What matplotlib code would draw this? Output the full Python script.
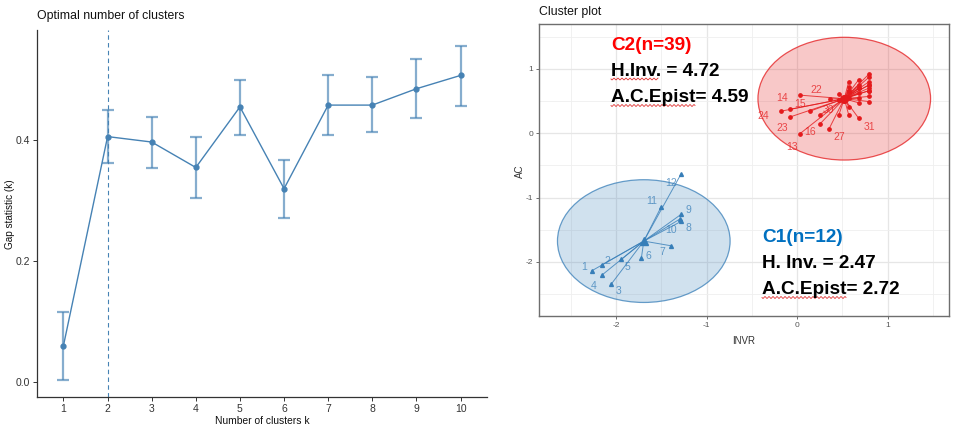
import numpy as np
import matplotlib
matplotlib.use("Agg")
import matplotlib.pyplot as plt
from matplotlib.patches import Ellipse

plt.rcParams['font.family'] = ['Liberation Sans', 'DejaVu Sans']

# ---------------- data: gap statistic ----------------
k_values = [1, 2, 3, 4, 5, 6, 7, 8, 9, 10]
gap = [0.061, 0.406, 0.397, 0.355, 0.455, 0.320, 0.458, 0.458, 0.485, 0.507]
gap_low = [0.004, 0.362, 0.354, 0.305, 0.409, 0.272, 0.409, 0.413, 0.437, 0.457]
gap_high = [0.117, 0.450, 0.439, 0.406, 0.499, 0.367, 0.508, 0.505, 0.534, 0.556]
optimal_k = 2
gap_yticks = [0.0, 0.2, 0.4]

# ---------------- data: cluster plot ----------------
c1_ids = ['1', '2', '3', '4', '5', '6', '7', '8', '9', '10', '11', '12']
c1_x = [-2.27, -2.16, -2.05, -2.16, -1.94, -1.72, -1.39, -1.28, -1.28, -1.29, -1.50, -1.28]
c1_y = [-2.14, -2.05, -2.34, -2.21, -1.96, -1.94, -1.75, -1.37, -1.26, -1.33, -1.14, -0.63]

c2_ids = ['13', '14', '15', '16', '22', '23', '24', '27', '30', '31'] + [''] * 29
c2_x = [0.03, -0.08, 0.14, 0.25, 0.03, -0.08, -0.18, 0.35, 0.25, 0.68,
        0.795, 0.795, 0.795, 0.795, 0.795, 0.795, 0.795, 0.795,
        0.68, 0.68, 0.68, 0.68, 0.68, 0.68,
        0.57, 0.57, 0.57, 0.57, 0.57, 0.57,
        0.46, 0.46, 0.46, 0.36,
        0.795, 0.68, 0.57, 0.795, 0.46]
c2_y = [-0.01, 0.37, 0.34, 0.14, 0.59, 0.25, 0.34, 0.06, 0.28, 0.23,
        0.92, 0.87, 0.80, 0.75, 0.70, 0.66, 0.57, 0.49,
        0.83, 0.75, 0.70, 0.62, 0.54, 0.47,
        0.80, 0.71, 0.65, 0.54, 0.41, 0.28,
        0.61, 0.52, 0.28, 0.53,
        0.75, 0.70, 0.65, 0.66, 0.52]
ellipse_radius = 0.953  # in data units (x and y)

x_ticks = [-2, -1, 0, 1]
y_ticks = [-2, -1, 0, 1]

# label nudges (layout only)
c1_nudge = {'1': (-0.08, 0.06), '2': (0.07, 0.07), '3': (0.08, -0.11), '4': (-0.09, -0.16),
            '5': (0.07, -0.12), '6': (0.08, 0.03), '7': (-0.10, -0.09), '8': (0.08, -0.10),
            '9': (0.08, 0.07), '10': (-0.10, -0.17), '11': (-0.11, 0.08), '12': (-0.11, -0.15)}
c2_nudge = {'22': (0.18, 0.08), '24': (-0.19, -0.08), '14': (-0.09, 0.17), '15': (-0.11, 0.11),
            '23': (-0.08, -0.17), '13': (-0.09, -0.20), '16': (-0.11, -0.13), '30': (0.09, 0.08),
            '27': (0.11, -0.12), '31': (0.115, -0.13)}

W, H = 957, 428
fig = plt.figure(figsize=(W / 100, H / 100), dpi=100)


def fx(px):
    return px / W


def fy(py):
    return 1 - py / H


steel = '#4682B4'

# ---------------- left panel ----------------
ax1 = fig.add_axes([fx(37), fy(397), (487 - 37) / W, (397 - 30) / H])
g = np.array(gap)
ax1.errorbar(k_values, gap, yerr=[g - np.array(gap_low), np.array(gap_high) - g],
             fmt='none', ecolor=steel, alpha=0.65, elinewidth=1.6, capsize=4.5, capthick=1.6, zorder=2)
ax1.plot(k_values, gap, color=steel, lw=1.0, marker='o', ms=3.5, zorder=3)
ax1.axvline(optimal_k, color=steel, ls=(0, (4, 3)), lw=0.8, zorder=1)
ax1.set_xlim(0.4, 10.6)
ax1.set_ylim(-0.024, 0.582)
ax1.set_xticks(k_values)
ax1.set_xticklabels([str(k) for k in k_values])
ax1.set_yticks(gap_yticks)
ax1.set_yticklabels(['%.1f' % v for v in gap_yticks])
for s in ['top', 'right']:
    ax1.spines[s].set_visible(False)
for s in ['left', 'bottom']:
    ax1.spines[s].set_color('#333333')
    ax1.spines[s].set_linewidth(0.9)
ax1.tick_params(axis='both', length=3, width=0.7, color='#333333', labelsize=7.5,
                labelcolor='#333333', pad=2)
fig.text(fx(37), fy(16), 'Optimal number of clusters', fontsize=8.8, va='center', ha='left',
         color='#111111')
fig.text(fx(262), fy(421), 'Number of clusters k', fontsize=7.4, va='center', ha='center',
         color='#111111')
fig.text(fx(10.5), fy(214), 'Gap statistic (k)', fontsize=7.2, va='center', ha='center',
         rotation=90, color='#111111')

# ---------------- right panel ----------------
ax2 = fig.add_axes([fx(539.3), fy(316), (949.3 - 539.3) / W, (316 - 24.3) / H])
ax2.set_xlim(-2.847, 1.68)
ax2.set_ylim(-2.84, 1.69)
ax2.set_xticks(x_ticks)
ax2.set_yticks(y_ticks)
ax2.set_xticks([t + 0.5 for t in [-3] + x_ticks], minor=True)
ax2.set_yticks([t + 0.5 for t in [-3] + y_ticks], minor=True)
ax2.grid(which='major', color='#E6E6E6', lw=0.9)
ax2.grid(which='minor', color='#EFEFEF', lw=0.6)
ax2.set_axisbelow(True)
for s in ax2.spines.values():
    s.set_color('#6E6E6E')
    s.set_linewidth(1.0)
ax2.tick_params(axis='both', which='major', length=2.5, width=0.6, color='#555555',
                labelsize=6, labelcolor='#555555', pad=2)
ax2.tick_params(axis='both', which='minor', length=0)
ax2.set_xticklabels([str(t) for t in x_ticks])
ax2.set_yticklabels([str(t) for t in y_ticks])

red = '#E41A1C'
blue = '#377EB8'

clusters = [
    (c1_x, c1_y, c1_ids, c1_nudge, blue, '^', 0.23, 2.8),
    (c2_x, c2_y, c2_ids, c2_nudge, red, 'o', 0.24, 2.4),
]
for xs, ys, ids, nudge, col, mk, fill_alpha, msz in clusters:
    xs = np.array(xs)
    ys = np.array(ys)
    cx, cy = xs.mean(), ys.mean()
    ax2.add_patch(Ellipse((cx, cy), 2 * ellipse_radius, 2 * ellipse_radius,
                          facecolor=col, alpha=fill_alpha, edgecolor='none', zorder=1))
    ax2.add_patch(Ellipse((cx, cy), 2 * ellipse_radius, 2 * ellipse_radius,
                          facecolor='none', edgecolor=col, lw=0.9, alpha=0.75, zorder=2))
    for x, y in zip(xs, ys):
        ax2.plot([cx, x], [cy, y], color=col, lw=0.7, alpha=0.8, zorder=3)
    ax2.plot(xs, ys, ls='none', marker=mk, ms=msz, color=col, zorder=4)
    ax2.plot([cx], [cy], ls='none', marker=mk, ms=5.5, color=col, zorder=4)
    for x, y, lab in zip(xs, ys, ids):
        if lab:
            dx, dy = nudge[lab]
            ax2.text(x + dx, y + dy, lab, color=col, alpha=0.75, fontsize=7.5,
                     ha='center', va='center', zorder=5)

fig.text(fx(539), fy(12), 'Cluster plot', fontsize=8.8, va='center', ha='left', color='#111111')
fig.text(fx(744), fy(341), 'INVR', fontsize=7, va='center', ha='center', color='#333333')
fig.text(fx(520), fy(171), 'AC', fontsize=7, va='center', ha='center', rotation=90, color='#333333')

# annotations
txt_kw = dict(fontsize=13.7, fontweight='bold', va='baseline', ha='left')
fig.text(fx(611), fy(50), 'C2(n=39)', color='#FF0000', **txt_kw)
fig.text(fx(611), fy(76), 'H.Inv. = 4.72', color='#000000', **txt_kw)
fig.text(fx(611), fy(102.5), 'A.C.Epist= 4.59', color='#000000', **txt_kw)
fig.text(fx(762), fy(241.5), 'C1(n=12)', color='#0070C0', **txt_kw)
fig.text(fx(762), fy(267.5), 'H. Inv. = 2.47', color='#000000', **txt_kw)
fig.text(fx(762), fy(294.5), 'A.C.Epist= 2.72', color='#000000', **txt_kw)

# spell-check squiggles
def squiggle(x0, x1, y):
    xs = np.linspace(x0, x1, int((x1 - x0) * 2))
    ys = y + 0.9 * np.sin((xs - x0) * np.pi / 2)
    fig.add_artist(plt.Line2D([fx(v) for v in xs], [fy(v) for v in ys], color='#E03030',
                              lw=0.6, transform=fig.transFigure))

squiggle(611, 658, 79)
squiggle(611, 695, 105.5)
squiggle(762, 846, 297.5)

fig.savefig('out.png', dpi=100, facecolor='white')
